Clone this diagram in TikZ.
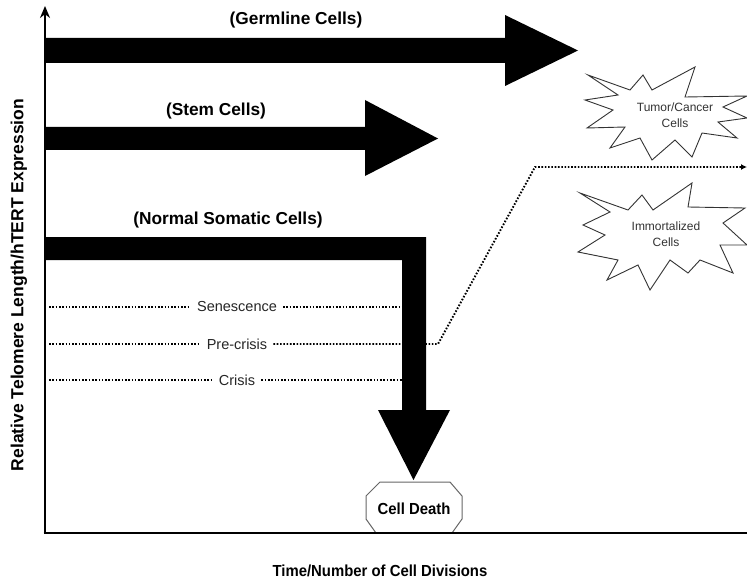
\documentclass[tikz,border=0pt]{standalone}
\usepackage{fontspec}
\setmainfont{Liberation Sans}
\newfontfamily\narrowfont[FakeStretch=0.93]{Liberation Sans}
\usetikzlibrary{arrows.meta}
\begin{document}
\begin{tikzpicture}[x=1pt,y=-1pt,
  band/.style={fill=black},
  dots/.style={line width=1.9pt, dash pattern=on 1.6pt off 1.7pt},
  title/.style={font=\bfseries\fontsize{17.3}{19}\selectfont},
  lbl/.style={font=\fontsize{14.5}{16}\selectfont, inner sep=6pt, text=black!85},
  burst/.style={draw=black!80, line width=0.9pt, fill=white},
  btext/.style={font=\fontsize{12}{15.5}\selectfont, align=center, text=black!80},
  axis/.style={line width=2.8pt}]
\fill[white] (0,0) rectangle (747,583);
\useasboundingbox (0,0) rectangle (747,583);

% dotted threshold lines
\node[lbl] (sen) at (237,307) {Senescence};
\node[lbl] (pre) at (237,344) {Pre-crisis};
\node[lbl] (cri) at (237,380) {Crisis};
\coordinate (s0) at (49,307); \coordinate (s1) at (404,307);
\coordinate (p0) at (49,344); \coordinate (p1) at (438,344);
\coordinate (p2) at (535,167); \coordinate (p3) at (747,167);
\coordinate (c0) at (49,380); \coordinate (c1) at (404,380);
\draw[dots] (s0) -- (sen.west);
\draw[dots] (sen.east) -- (s1);
\draw[dots] (p0) -- (pre.west);
\draw[dots, -{Latex[length=6pt,width=6pt]}] (pre.east) -- (p1) -- (p2) -- (p3);
\draw[dots] (c0) -- (cri.west);
\draw[dots] (cri.east) -- (c1);

% big arrows
\fill[band] (45,38) -- (505,38) -- (505,15) -- (578,50.5) -- (505,86) -- (505,63) -- (45,63) -- cycle;
\fill[band] (45,127) -- (365,127) -- (365,100) -- (438,138.5) -- (365,176) -- (365,150) -- (45,150) -- cycle;
\fill[band] (45,237) -- (426,237) -- (426,410) -- (450,410) -- (413.5,480) -- (378,410) -- (402,410) -- (402,260) -- (45,260) -- cycle;

% titles
\node[title] (germ) at (296,20) {(Germline Cells)};
\node[title] (stem) at (216,111) {(Stem Cells)};
\node[title] (som) at (228,220) {(Normal Somatic Cells)};

% cell death
\draw[draw=black!60, line width=1pt, fill=white] (380,482) -- (450,482) -- (462,496) -- (462,519) -- (452,533) -- (376,533) -- (366,519) -- (366,496) -- cycle;
\node[font=\narrowfont\bfseries\fontsize{16}{18}\selectfont] (death) at (414,509) {Cell Death};

% axes
\coordinate (o) at (45,533);
\coordinate (ytop) at (45,6);
\coordinate (xend) at (747,533);
\draw[axis, -{Stealth[length=12pt,width=10pt]}] (o) -- (ytop);
\draw[axis] ([xshift=-1.4pt]o) -- (xend);

% starbursts
\draw[burst] (588,75) -- (630,90) -- (643,75) -- (652,90) -- (695,67) -- (685,97) -- (747,96) -- (723,107) -- (747,118) -- (718,122) -- (737,138) -- (702,133) -- (692,157) -- (675,140) -- (652,160) -- (640,138) -- (610,148) -- (625,127) -- (587,128) -- (613,110) -- (585,100) -- (618,95) -- cycle;
\node[btext] (tumor) at (675,115) {Tumor/Cancer\\Cells};
\draw[burst] (580,193) -- (628,210) -- (642,195) -- (653,210) -- (692,183) -- (688,207) -- (745,208) -- (723,223) -- (747,245) -- (720,245) -- (733,273) -- (700,260) -- (688,273) -- (670,260) -- (650,290) -- (638,265) -- (607,280) -- (618,260) -- (578,252) -- (605,235) -- (583,225) -- (610,212) -- cycle;
\node[btext] (imm) at (666,234) {Immortalized\\Cells};

% axis labels
\node[font=\bfseries\fontsize{17.5}{19}\selectfont, rotate=90] (ylab) at (19,285) {Relative Telomere Length/hTERT Expression};
\node[font=\narrowfont\bfseries\fontsize{16}{18}\selectfont] (xlab) at (380,571) {Time/Number of Cell Divisions};
\end{tikzpicture}
\end{document}
